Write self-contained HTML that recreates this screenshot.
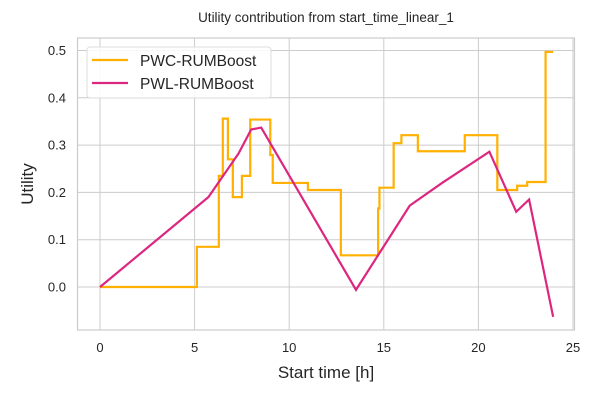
<!DOCTYPE html>
<html><head><meta charset="utf-8"><style>
body{margin:0;background:#fff;font-family:"Liberation Sans","DejaVu Sans",sans-serif}
</style></head><body>
<svg id="chart" width="600" height="400" xmlns="http://www.w3.org/2000/svg" font-family="Liberation Sans, DejaVu Sans, sans-serif">
<rect width="600" height="400" fill="#fff"/>
<g id="grid"></g>
<rect x="77.5" y="38" width="497" height="292" fill="none" stroke="#ccc" stroke-width="1.2"/>
<g id="series"></g>
<g id="ticks" font-size="13" fill="#262626"></g>
<text x="326" y="22" text-anchor="middle" font-size="13.5" fill="#262626">Utility contribution from start_time_linear_1</text>
<text x="326" y="378" text-anchor="middle" font-size="17" fill="#262626">Start time [h]</text>
<text transform="translate(33,184) rotate(-90)" text-anchor="middle" font-size="17" fill="#262626">Utility</text>
<g>
<rect x="87" y="47" width="184" height="51" rx="3" fill="#fff" fill-opacity="0.85" stroke="#ddd"/>
<line x1="92" y1="60" x2="128" y2="60" stroke="#ffb000" stroke-width="2.2"/>
<text x="140" y="66" font-size="15.5" fill="#262626">PWC-RUMBoost</text>
<line x1="92" y1="83" x2="128" y2="83" stroke="#dc267f" stroke-width="2.2"/>
<text x="140" y="89" font-size="15.5" fill="#262626">PWL-RUMBoost</text>
</g>
</svg>
<script>
const xTicks=[0,5,10,15,20,25];
const yTicks=[0.0,0.1,0.2,0.3,0.4,0.5];
const yTickLabels=["0.0","0.1","0.2","0.3","0.4","0.5"];
const pwcX=[0,5.12,6.28,6.49,6.76,7.02,7.5,7.94,9.0,9.13,10.99,12.73,14.7,14.77,15.52,15.93,16.8,19.28,21.0,22.05,22.58,23.55,23.95];
const pwcY=[0,0.085,0.235,0.356,0.27,0.19,0.235,0.354,0.279,0.22,0.205,0.067,0.166,0.21,0.304,0.321,0.287,0.321,0.205,0.214,0.222,0.497];
const pwlX=[0,5.73,7.32,7.99,8.52,13.53,16.37,18.08,20.58,22.0,22.68,23.95];
const pwlY=[0,0.19,0.282,0.333,0.337,-0.006,0.172,0.22,0.286,0.159,0.185,-0.063];
const X=t=>100+t*18.92, Y=v=>287-v*473;
const NS="http://www.w3.org/2000/svg";
const grid=document.getElementById('grid'),ticks=document.getElementById('ticks'),series=document.getElementById('series');
function mk(tag,attrs,parent){const e=document.createElementNS(NS,tag);for(const k in attrs)e.setAttribute(k,attrs[k]);parent.appendChild(e);return e;}
xTicks.forEach(t=>{
 const l=mk('line',{x1:X(t),x2:X(t),y1:38,y2:330,stroke:'#ccc','stroke-width':1},grid);
 
 
 const tx=mk('text',{x:X(t),y:352,'text-anchor':'middle'},ticks);tx.textContent=t;
 
 
});
yTicks.forEach((v,i)=>{
 const l=mk('line',{x1:77.5,x2:574.5,y1:Y(v),y2:Y(v),stroke:'#ccc','stroke-width':1},grid);
 
 
 const tx=mk('text',{x:66,y:Y(v)+4.5,'text-anchor':'end'},ticks);tx.textContent=yTickLabels[i];
 
 
});
let d='M'+X(pwcX[0])+','+Y(pwcY[0]);
for(let i=0;i<pwcY.length;i++){d+=' H'+X(pwcX[i+1]);if(i+1<pwcY.length)d+=' V'+Y(pwcY[i+1]);}
const p1=mk('path',{d:d,fill:'none',stroke:'#ffb000','stroke-width':2.2},series);


const p2=mk('polyline',{points:pwlX.map((t,i)=>X(t)+','+Y(pwlY[i])).join(' '),fill:'none',stroke:'#dc267f','stroke-width':2.2},series);


</script>
</body></html>
